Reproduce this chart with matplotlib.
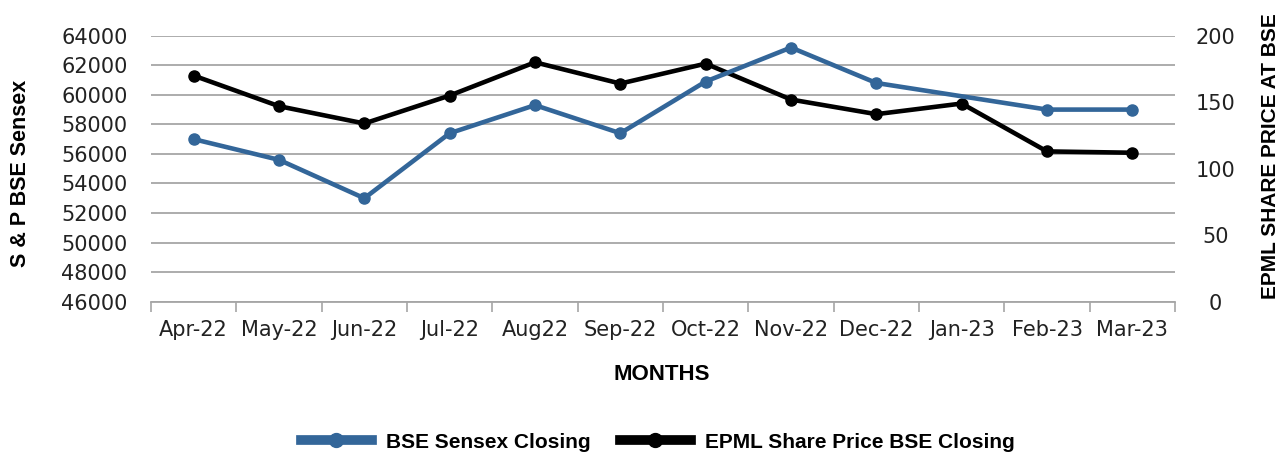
import matplotlib
matplotlib.use('Agg')
import matplotlib.pyplot as plt
from matplotlib.lines import Line2D
import numpy as np

months = ['Apr-22', 'May-22', 'Jun-22', 'Jul-22', 'Aug22', 'Sep-22', 'Oct-22',
          'Nov-22', 'Dec-22', 'Jan-23', 'Feb-23', 'Mar-23']
sensex = [57000, 55600, 53000, 57400, 59300, 57400, 60900, 63200, 60800, None, 59000, 59000]
epml = [170, 147, 134, 155, 180, 164, 179, 152, 141, 149, 113, 112]
left_ticks = list(range(46000, 64001, 2000))
right_ticks = [0, 50, 100, 150, 200]

BLUE = '#336699'
GRID = '#a6a6a6'
TICKFONT = 'DejaVu Sans'
BOLDFONT = 'Liberation Sans'

fig = plt.figure(figsize=(12.83, 4.53), dpi=100)
ax = fig.add_axes([151/1283, 1-301.7/453, (1175-151)/1283, (301.7-35.7)/453])
ax2 = ax.twinx()

x = np.arange(len(months))
s = np.array([np.nan if v is None else v for v in sensex], dtype=float)
mask = ~np.isnan(s)

ax2.plot(x, epml, color='black', lw=3.3, marker='o', ms=8, zorder=3)
ax2.plot(x[mask], s[mask], color=BLUE, lw=3.3, marker='o', ms=8, zorder=4,
         transform=ax.transData)

ax.set_xlim(-0.5, len(months) - 0.5)
ax.set_ylim(46000, 64000)
ax2.set_ylim(0, 200)
ax2.set_xlim(-0.5, len(months) - 0.5)

ax.set_yticks(left_ticks)
ax2.set_yticks(right_ticks)
ax.yaxis.grid(True, color=GRID, lw=1.3)
ax.set_axisbelow(True)

ax.set_xticks(np.arange(-0.5, len(months), 1))
ax.set_xticklabels([])
ax.set_xticks(x, minor=True)
ax.set_xticklabels(months, minor=True, fontsize=15, family=TICKFONT, color='#222222')
ax.tick_params(axis='x', which='major', length=7, width=1.2, color=GRID, direction='out')
ax.tick_params(axis='x', which='minor', length=0, pad=13)

ax.tick_params(axis='y', length=0, pad=17, labelsize=15, labelcolor='#222222')
for lab in ax.get_yticklabels():
    lab.set_family(TICKFONT)
ax2.tick_params(axis='y', length=0, pad=29, labelsize=15, labelcolor='#222222')
for lab in ax2.get_yticklabels():
    lab.set_family(TICKFONT)
    lab.set_horizontalalignment('center')

for sp in ['top', 'left', 'right']:
    ax.spines[sp].set_visible(False)
ax.spines['bottom'].set_color(GRID)
ax.spines['bottom'].set_linewidth(1.3)
for sp in ax2.spines.values():
    sp.set_visible(False)

fig.text(21/1283, 1-173/453, 'S & P BSE Sensex', rotation=90, ha='center', va='center',
         fontsize=15.5, fontweight='bold', family=BOLDFONT)
fig.text(1271/1283, 1-299/453, 'EPML SHARE PRICE AT BSE', rotation=90, ha='center',
         va='bottom', fontsize=15, fontweight='bold', family=BOLDFONT)
fig.text(662/1283, 1-374/453, 'MONTHS', ha='center', va='center',
         fontsize=16, fontweight='bold', family=BOLDFONT)

handles = [Line2D([], [], color=BLUE, lw=7, marker='o', ms=10),
           Line2D([], [], color='black', lw=7, marker='o', ms=10)]
fig.legend(handles, ['BSE Sensex Closing', 'EPML Share Price BSE Closing'],
           loc='center', bbox_to_anchor=(658/1283, 1-442/453), ncol=2, frameon=False,
           prop={'family': BOLDFONT, 'weight': 'bold', 'size': 15},
           handlelength=3.4, handletextpad=0.7, columnspacing=1.4)

fig.savefig('out.png', dpi=100)
